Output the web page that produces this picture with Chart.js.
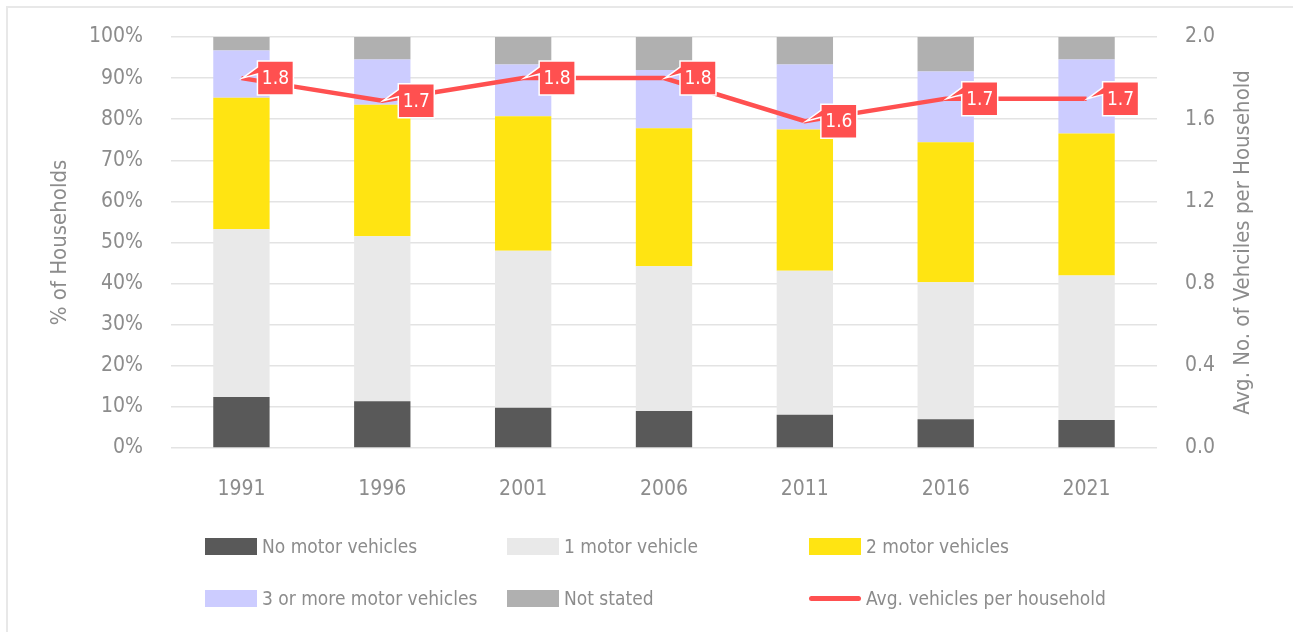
<!DOCTYPE html>
<html>
<head>
<meta charset="utf-8">
<script src="https://cdn.jsdelivr.net/npm/chart.js@4.4.0/dist/chart.umd.min.js"></script>
<style>
  body { margin: 0; background: #fff; }
  #wrap { position: relative; width: 1293px; height: 632px; overflow: hidden; }
  #frame { position: absolute; left: 6px; top: 6px; width: 1400px; height: 700px;
           border-left: 2px solid #e8e8e8; border-top: 2px solid #e8e8e8; }
  #myChart { position: absolute; left: 0; top: 0; }
  .lg { position: absolute; font-family: 'DejaVu Sans Condensed', 'DejaVu Sans', sans-serif;
        font-size: 19px; color: #8c8c8c; white-space: nowrap; line-height: 24px; }
  .lg i { position: absolute; left: 0; width: 52px; }
  .lg span { position: absolute; left: 57px; top: -12px; }
</style>
</head>
<body>
<div id="wrap">
  <div id="frame"></div>
  <canvas id="myChart" width="1293" height="632"></canvas>
  <div id="legend"></div>
</div>
<script>
const years = ['1991', '1996', '2001', '2006', '2011', '2016', '2021'];

const noVehicles = [12.4, 11.4, 9.8, 9.0, 8.1, 7.0, 6.8];
const oneVehicle = [40.8, 40.1, 38.2, 35.2, 35.0, 33.3, 35.2];
const twoVehicles = [32.0, 32.0, 32.7, 33.6, 34.4, 34.1, 34.5];
const threeVehicles = [11.5, 11.0, 12.6, 14.2, 15.8, 17.2, 18.0];
const notStated = [3.3, 5.5, 6.7, 8.0, 6.7, 8.4, 5.5];

const avgVehicles = [1.80, 1.69, 1.80, 1.80, 1.59, 1.70, 1.70];

const fontFamily = "'DejaVu Sans Condensed', 'DejaVu Sans', sans-serif";
const textGrey = '#8c8c8c';
const red = '#ff5050';
const rightTitle = 'Avg. No. of Vehciles per Household';

function bar(label, values, color) {
    return {
        type: 'bar',
        label: label,
        data: values,
        backgroundColor: color,
        yAxisID: 'y',
        order: 1,
        barPercentage: 0.4,
        categoryPercentage: 1.0,
        borderWidth: 0
    };
}

const data = {
    labels: years,
    datasets: [
        bar('No motor vehicles', noVehicles, '#595959'),
        bar('1 motor vehicle', oneVehicle, '#e9e9e9'),
        bar('2 motor vehicles', twoVehicles, '#ffe412'),
        bar('3 or more motor vehicles', threeVehicles, '#ccccff'),
        bar('Not stated', notStated, '#b0b0b0'),
        {
            type: 'line',
            label: 'Avg. vehicles per household',
            data: avgVehicles,
            borderColor: red,
            borderWidth: 4.5,
            pointRadius: 0,
            yAxisID: 'y1',
            order: 0,
            tension: 0
        }
    ]
};

// red callout boxes next to each point of the line
const callouts = {
    id: 'callouts',
    afterDatasetsDraw(chart) {
        const ctx = chart.ctx;
        const idx = chart.data.datasets.length - 1;
        const meta = chart.getDatasetMeta(idx);
        const values = chart.data.datasets[idx].data;
        ctx.save();
        meta.data.forEach(function (pt, i) {
            const x = pt.x, y = pt.y;
            const bx = x + 16, by = y - 17, bw = 36, bh = 34;
            ctx.beginPath();
            ctx.moveTo(x + 1, y);
            ctx.lineTo(bx, y - 11);
            ctx.lineTo(bx, by);
            ctx.lineTo(bx + bw, by);
            ctx.lineTo(bx + bw, by + bh);
            ctx.lineTo(bx, by + bh);
            ctx.lineTo(bx, y - 4);
            ctx.closePath();
            ctx.fillStyle = red;
            ctx.fill();
            ctx.lineWidth = 1.5;
            ctx.strokeStyle = '#ffffff';
            ctx.lineJoin = 'miter';
            ctx.stroke();
            ctx.fillStyle = '#ffffff';
            ctx.font = '19px ' + fontFamily;
            ctx.textAlign = 'center';
            ctx.textBaseline = 'middle';
            ctx.fillText(values[i].toFixed(1), bx + bw / 2, by + bh / 2 + 1);
        });
        ctx.restore();
    },
    // right axis title, read bottom to top like the left one
    afterDraw(chart) {
        const ctx = chart.ctx;
        const area = chart.chartArea;
        ctx.save();
        ctx.translate(1243, (area.top + area.bottom) / 2);
        ctx.rotate(-Math.PI / 2);
        ctx.fillStyle = textGrey;
        ctx.font = '22px ' + fontFamily;
        ctx.textAlign = 'center';
        ctx.textBaseline = 'middle';
        ctx.fillText(rightTitle, 0, 0);
        ctx.restore();
    }
};

// fixed axis widths; drop the extra top room the tick padding asks for
function fitVertical(width) {
    return function (scale) {
        scale.width = width;
        scale.paddingTop = 0;
        scale.paddingBottom = 0;
    };
}

const config = {
    data,
    options: {
        responsive: false,
        animation: false,
        devicePixelRatio: 1,
        layout: {
            padding: { top: 37, bottom: 124, left: 0, right: 0 }
        },
        plugins: {
            legend: { display: false },
            tooltip: { enabled: false }
        },
        scales: {
            x: {
                stacked: true,
                grid: { display: false },
                border: { display: false },
                ticks: {
                    color: textGrey,
                    padding: 21,
                    font: { family: fontFamily, size: 21 }
                },
                afterFit: function (scale) { scale.height = 60; }
            },
            y: {
                stacked: true,
                position: 'left',
                min: 0,
                max: 100,
                ticks: {
                    stepSize: 10,
                    color: textGrey,
                    padding: 28,
                    font: { family: fontFamily, size: 21 },
                    callback: function (v) { return v + '%'; }
                },
                grid: { color: '#e3e3e3', lineWidth: 1.5, drawTicks: false },
                border: { display: false },
                title: {
                    display: true,
                    text: '% of Households',
                    color: textGrey,
                    font: { family: fontFamily, size: 22 },
                    padding: { top: 47, bottom: 0 }
                },
                afterFit: fitVertical(171)
            },
            y1: {
                position: 'right',
                min: 0,
                max: 2,
                ticks: {
                    stepSize: 0.4,
                    color: textGrey,
                    padding: 28,
                    font: { family: fontFamily, size: 21 },
                    callback: function (v) { return v.toFixed(1); }
                },
                grid: { display: false, drawTicks: false },
                border: { display: false },
                afterFit: fitVertical(136)
            }
        }
    },
    plugins: [callouts]
};

const myChart = new Chart(
    document.getElementById('myChart'),
    config
);

// legend in three columns, two rows
const legendCols = [205, 507, 809];
const legendRows = [546, 598];
const legendEl = document.getElementById('legend');
data.datasets.forEach(function (ds, i) {
    const item = document.createElement('div');
    item.className = 'lg';
    item.style.left = legendCols[i % 3] + 'px';
    item.style.top = legendRows[Math.floor(i / 3)] + 'px';
    const swatch = document.createElement('i');
    if (ds.type === 'line') {
        swatch.style.top = '-2px';
        swatch.style.height = '5px';
        swatch.style.borderRadius = '3px';
        swatch.style.background = ds.borderColor;
    } else {
        swatch.style.top = '-8px';
        swatch.style.height = '17px';
        swatch.style.background = ds.backgroundColor;
    }
    const txt = document.createElement('span');
    txt.textContent = ds.label;
    item.appendChild(swatch);
    item.appendChild(txt);
    legendEl.appendChild(item);
});
</script>
</body>
</html>
